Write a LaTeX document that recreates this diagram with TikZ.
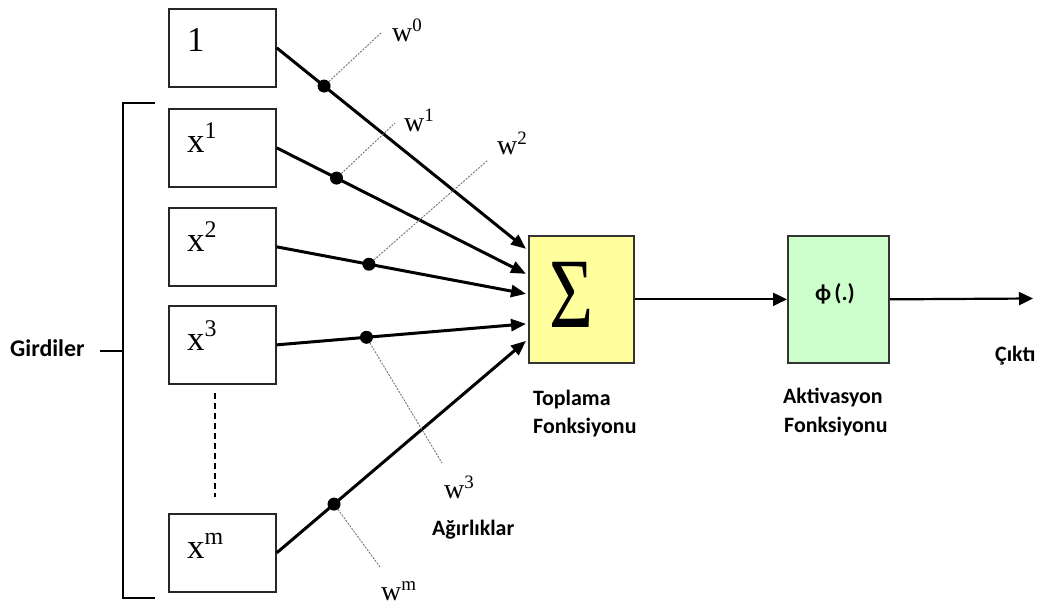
\documentclass[tikz,border=0pt]{standalone}
\usepackage{fontspec}
\setmainfont{Liberation Serif}
\newfontfamily\calfont{Carlito}
\usetikzlibrary{arrows.meta,calc}

% symbol with raised index, in the two sizes used
\newcommand\symlab[2]{{\fontsize{35}{40}\selectfont #1\raisebox{14bp}{\fontsize{24}{26}\selectfont #2}}}
\newcommand\wlab[2]{{\fontsize{28}{32}\selectfont #1\raisebox{10bp}{\fontsize{19}{22}\selectfont #2}}}

\begin{document}
\begin{tikzpicture}[x=1bp,y=-1bp,
  inbox/.style={draw=black!85,line width=1.7bp,minimum width=107bp,minimum height=78bp,inner sep=0pt,anchor=north west},
  opbox/.style={draw=black!80,line width=1.7bp,minimum height=127bp,inner sep=0pt,anchor=north west},
  feed/.style={line width=3bp,-{Triangle[length=15bp,width=12bp]}},
  flow/.style={line width=2.2bp,-{Triangle[length=14bp,width=13bp]}},
  wline/.style={draw=black!55,line width=0.9bp,dash pattern=on 2bp off 1.3bp},
  wdot/.style={circle,fill=black,inner sep=0pt,minimum size=13bp},
  sym/.style={anchor=base west,inner sep=0pt},
  lab/.style={font=\calfont\bfseries\fontsize{22}{26}\selectfont,inner sep=0pt,anchor=base west},
]
\definecolor{sumfill}{RGB}{255,255,158}
\definecolor{actfill}{RGB}{204,255,204}
\useasboundingbox (0,0) rectangle (1052,608);

% input boxes
\node[inbox] (b0) at (168,8) {};
\node[inbox] (b1) at (168,108) {};
\node[inbox] (b2) at (168,207) {};
\node[inbox] (b3) at (168,305) {};
\node[inbox] (bm) at (168,513) {};
\node[sym] (l0) at (187,52)  {\symlab{1}{}};
\node[sym] (l1) at (187,153) {\symlab{x}{1}};
\node[sym] (l2) at (187,252) {\symlab{x}{2}};
\node[sym] (l3) at (187,350) {\symlab{x}{3}};
\node[sym] (lm) at (187,558) {\symlab{x}{m}};

% elided inputs
\coordinate (gapA) at (215,393);
\coordinate (gapB) at (215,497);
\draw[line width=1.3bp,dash pattern=on 6bp off 4bp] (gapA) -- (gapB);

% bracket grouping the inputs
\coordinate (brT) at (155,103);
\coordinate (brTL) at (123,103);
\coordinate (brBL) at (123,598);
\coordinate (brB) at (155,598);
\coordinate (brM) at (123,351);
\coordinate (brK) at (100,351);
\draw[line width=1.8bp] (brT) -- (brTL) -- (brBL) -- (brB);
\draw[line width=1.8bp] (brK) -- (brM);
\node[lab,font=\calfont\bfseries\fontsize{24}{26}\selectfont] (gird) at (10,356) {Girdiler};

% summation and activation blocks
\node[opbox,fill=sumfill,minimum width=105bp] (sum) at (528,235) {};
\node[opbox,fill=actfill,minimum width=101bp] (act) at (787,235) {};
\node[inner sep=0pt] (sig) at (572,295) {\scalebox{0.76}[1]{\fontsize{100}{100}\selectfont Σ}};
\node[inner sep=0pt,font=\calfont\bfseries\fontsize{23}{26}\selectfont] (phi) at (835,294) {ϕ\kern3bp(.)};

% arrow tips on the summation block
\coordinate (t0) at ($(sum.west)+(-2,-50.5)$);
\coordinate (t1) at ($(sum.west)+(-2,-25.5)$);
\coordinate (t2) at ($(sum.west)+(-2,-5.5)$);
\coordinate (t3) at ($(sum.west)+(-2,24.5)$);
\coordinate (tm) at ($(sum.west)+(-2,41.5)$);

% weighted connections
\draw[feed] (b0.east) -- coordinate[pos=0.19] (d0) (t0);
\draw[feed] (b1.east) -- coordinate[pos=0.24] (d1) (t1);
\draw[feed] (b2.east) -- coordinate[pos=0.37] (d2) (t2);
\draw[feed] (b3.east) -- coordinate[pos=0.36] (d3) (t3);
\draw[feed] (bm.east) -- coordinate[pos=0.23] (dm) (tm);

% weight leaders
\coordinate (e0) at (382,32);
\coordinate (e1) at (395,123);
\coordinate (e2) at (488,160);
\coordinate (e3) at (442,463);
\coordinate (em) at (380,567);
\draw[wline] (d0) -- (e0);
\draw[wline] (d1) -- (e1);
\draw[wline] (d2) -- (e2);
\draw[wline] (d3) -- (e3);
\draw[wline] (dm) -- (em);
\foreach \d in {d0,d1,d2,d3,dm} \node[wdot] at (\d) {};

\node[sym] (w0) at (392,42)  {\wlab{w}{0}};
\node[sym] (w1) at (404,132) {\wlab{w}{1}};
\node[sym] (w2) at (497,155) {\wlab{w}{2}};
\node[sym] (w3) at (444,498) {\wlab{w}{3}};
\node[sym] (wm) at (381,600) {\wlab{w}{m}};
\node[lab] (agr) at (432,535) {Ağırlıklar};

% output path
\coordinate (out) at (1033,298.5);
\draw[flow] (sum.east) -- (act.west);
\draw[flow] (act.east) -- (out);

\node[lab] (top1) at (533,405) {Toplama};
\node[lab] (top2) at (533,433) {Fonksiyonu};
\node[lab] (akt1) at (783,403) {Aktivasyon};
\node[lab] (akt2) at (784,432) {Fonksiyonu};
\node[lab] (cikti) at (995,361) {Çıktı};
\end{tikzpicture}
\end{document}
